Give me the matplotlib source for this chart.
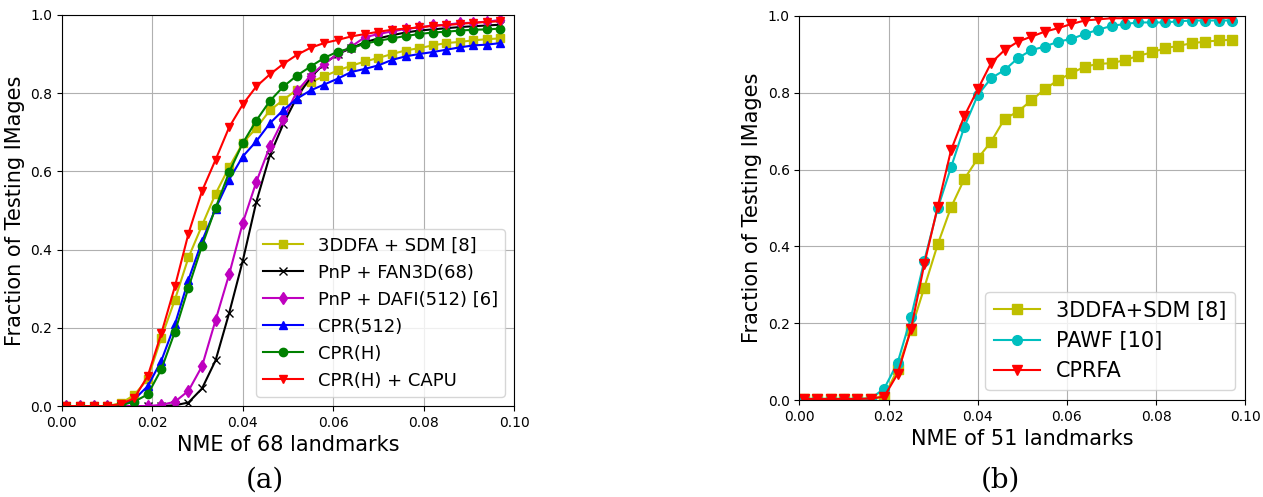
import matplotlib
matplotlib.use("Agg")
import matplotlib.pyplot as plt
import numpy as np

# NME thresholds (same grid for both panels)
nme = np.linspace(0.001, 0.097, 33)

# panel (a): 68 landmarks
sdm_a = [0, 0, 0, 0, 0.007, 0.028, 0.07, 0.175, 0.272, 0.38, 0.462, 0.543, 0.611, 0.672,
         0.711, 0.756, 0.783, 0.809, 0.828, 0.843, 0.858, 0.87, 0.881, 0.89, 0.9, 0.909,
         0.915, 0.922, 0.928, 0.931, 0.935, 0.938, 0.94]
fan3d = [0, 0, 0, 0, 0, 0, 0, 0, 0.002, 0.009, 0.045, 0.117, 0.238, 0.371, 0.522, 0.641,
         0.722, 0.79, 0.84, 0.875, 0.9, 0.915, 0.93, 0.94, 0.948, 0.955, 0.96, 0.963,
         0.966, 0.969, 0.971, 0.973, 0.975]
dafi = [0, 0, 0, 0, 0, 0, 0, 0.003, 0.011, 0.039, 0.102, 0.22, 0.337, 0.468, 0.573, 0.664,
        0.734, 0.805, 0.845, 0.875, 0.9, 0.919, 0.943, 0.951, 0.958, 0.964, 0.968, 0.973,
        0.975, 0.979, 0.98, 0.983, 0.987]
cpr512 = [0, 0, 0, 0, 0.003, 0.017, 0.051, 0.116, 0.209, 0.323, 0.422, 0.505, 0.579, 0.638,
          0.677, 0.723, 0.757, 0.786, 0.807, 0.822, 0.837, 0.854, 0.862, 0.871, 0.885,
          0.894, 0.9, 0.905, 0.911, 0.917, 0.922, 0.924, 0.928]
cprh = [0, 0, 0, 0, 0.002, 0.011, 0.03, 0.094, 0.19, 0.303, 0.41, 0.507, 0.598, 0.672, 0.73,
        0.78, 0.817, 0.845, 0.868, 0.89, 0.906, 0.915, 0.926, 0.934, 0.94, 0.946, 0.951,
        0.955, 0.957, 0.96, 0.962, 0.963, 0.965]
capu = [0, 0, 0, 0, 0.005, 0.02, 0.077, 0.186, 0.306, 0.441, 0.55, 0.63, 0.713, 0.771, 0.817,
        0.848, 0.875, 0.898, 0.916, 0.928, 0.936, 0.945, 0.951, 0.957, 0.962, 0.965, 0.968,
        0.972, 0.974, 0.977, 0.98, 0.982, 0.984]

# panel (b): 51 landmarks
sdm_b = [0.003, 0.003, 0.003, 0.003, 0.003, 0.004, 0.009, 0.08, 0.182, 0.293, 0.405, 0.502,
         0.576, 0.629, 0.673, 0.732, 0.751, 0.78, 0.809, 0.833, 0.851, 0.868, 0.875, 0.877,
         0.885, 0.896, 0.905, 0.916, 0.922, 0.929, 0.933, 0.936, 0.938]
pawf = [0.003, 0.003, 0.003, 0.003, 0.003, 0.004, 0.03, 0.097, 0.215, 0.363, 0.499, 0.606,
        0.712, 0.794, 0.838, 0.859, 0.89, 0.911, 0.92, 0.933, 0.94, 0.953, 0.964, 0.974,
        0.979, 0.983, 0.983, 0.983, 0.986, 0.988, 0.988, 0.988, 0.988]
cprfa = [0.003, 0.003, 0.003, 0.003, 0.003, 0.004, 0.009, 0.068, 0.184, 0.354, 0.503, 0.651,
         0.74, 0.809, 0.878, 0.911, 0.933, 0.946, 0.959, 0.968, 0.979, 0.988, 0.991, 0.994,
         0.994, 0.995, 0.995, 0.995, 0.995, 0.995, 0.995, 0.995, 0.995]

fig = plt.figure(figsize=(12.63, 4.97), dpi=100)
ax1 = fig.add_axes([0.049, 0.183, 0.358, 0.787])
ax2 = fig.add_axes([0.633, 0.195, 0.353, 0.773])

ms = 6
ax1.plot(nme, sdm_a, 'y-s', ms=ms, label='3DDFA + SDM [8]')
ax1.plot(nme, fan3d, 'k-x', ms=ms, label='PnP + FAN3D(68)')
ax1.plot(nme, dafi, 'm-d', ms=ms, label='PnP + DAFI(512) [6]')
ax1.plot(nme, cpr512, 'b-^', ms=ms, label='CPR(512)')
ax1.plot(nme, cprh, 'g-o', ms=ms, label='CPR(H)')
ax1.plot(nme, capu, 'r-v', ms=ms, label='CPR(H) + CAPU')

ax2.plot(nme, sdm_b, 'y-s', ms=ms + 1, label='3DDFA+SDM [8]')
ax2.plot(nme, pawf, 'c-o', ms=ms + 1, label='PAWF [10]')
ax2.plot(nme, cprfa, 'r-v', ms=ms + 1, label='CPRFA')

for ax, xl, fs in [(ax1, 'NME of 68 landmarks', 13), (ax2, 'NME of 51 landmarks', 15)]:
    ax.set_xlim(0, 0.1)
    ax.set_ylim(0, 1.0)
    ax.set_xticks([0, 0.02, 0.04, 0.06, 0.08, 0.1])
    ax.set_xticklabels(['0.00', '0.02', '0.04', '0.06', '0.08', '0.10'])
    ax.set_yticks([0, 0.2, 0.4, 0.6, 0.8, 1.0])
    ax.tick_params(labelsize=10)
    ax.grid(True, color='#b0b0b0', lw=0.8)
    ax.set_xlabel(xl, fontsize=15)
    ax.set_ylabel('Fraction of Testing IMages', fontsize=15)
    ax.legend(loc='lower right', fontsize=fs, handlelength=2.2)

fig.text(0.21, 0.018, '(a)', fontsize=20, family='DejaVu Serif', ha='center')
fig.text(0.792, 0.018, '(b)', fontsize=20, family='DejaVu Serif', ha='center')

fig.savefig('out.png', dpi=100)
